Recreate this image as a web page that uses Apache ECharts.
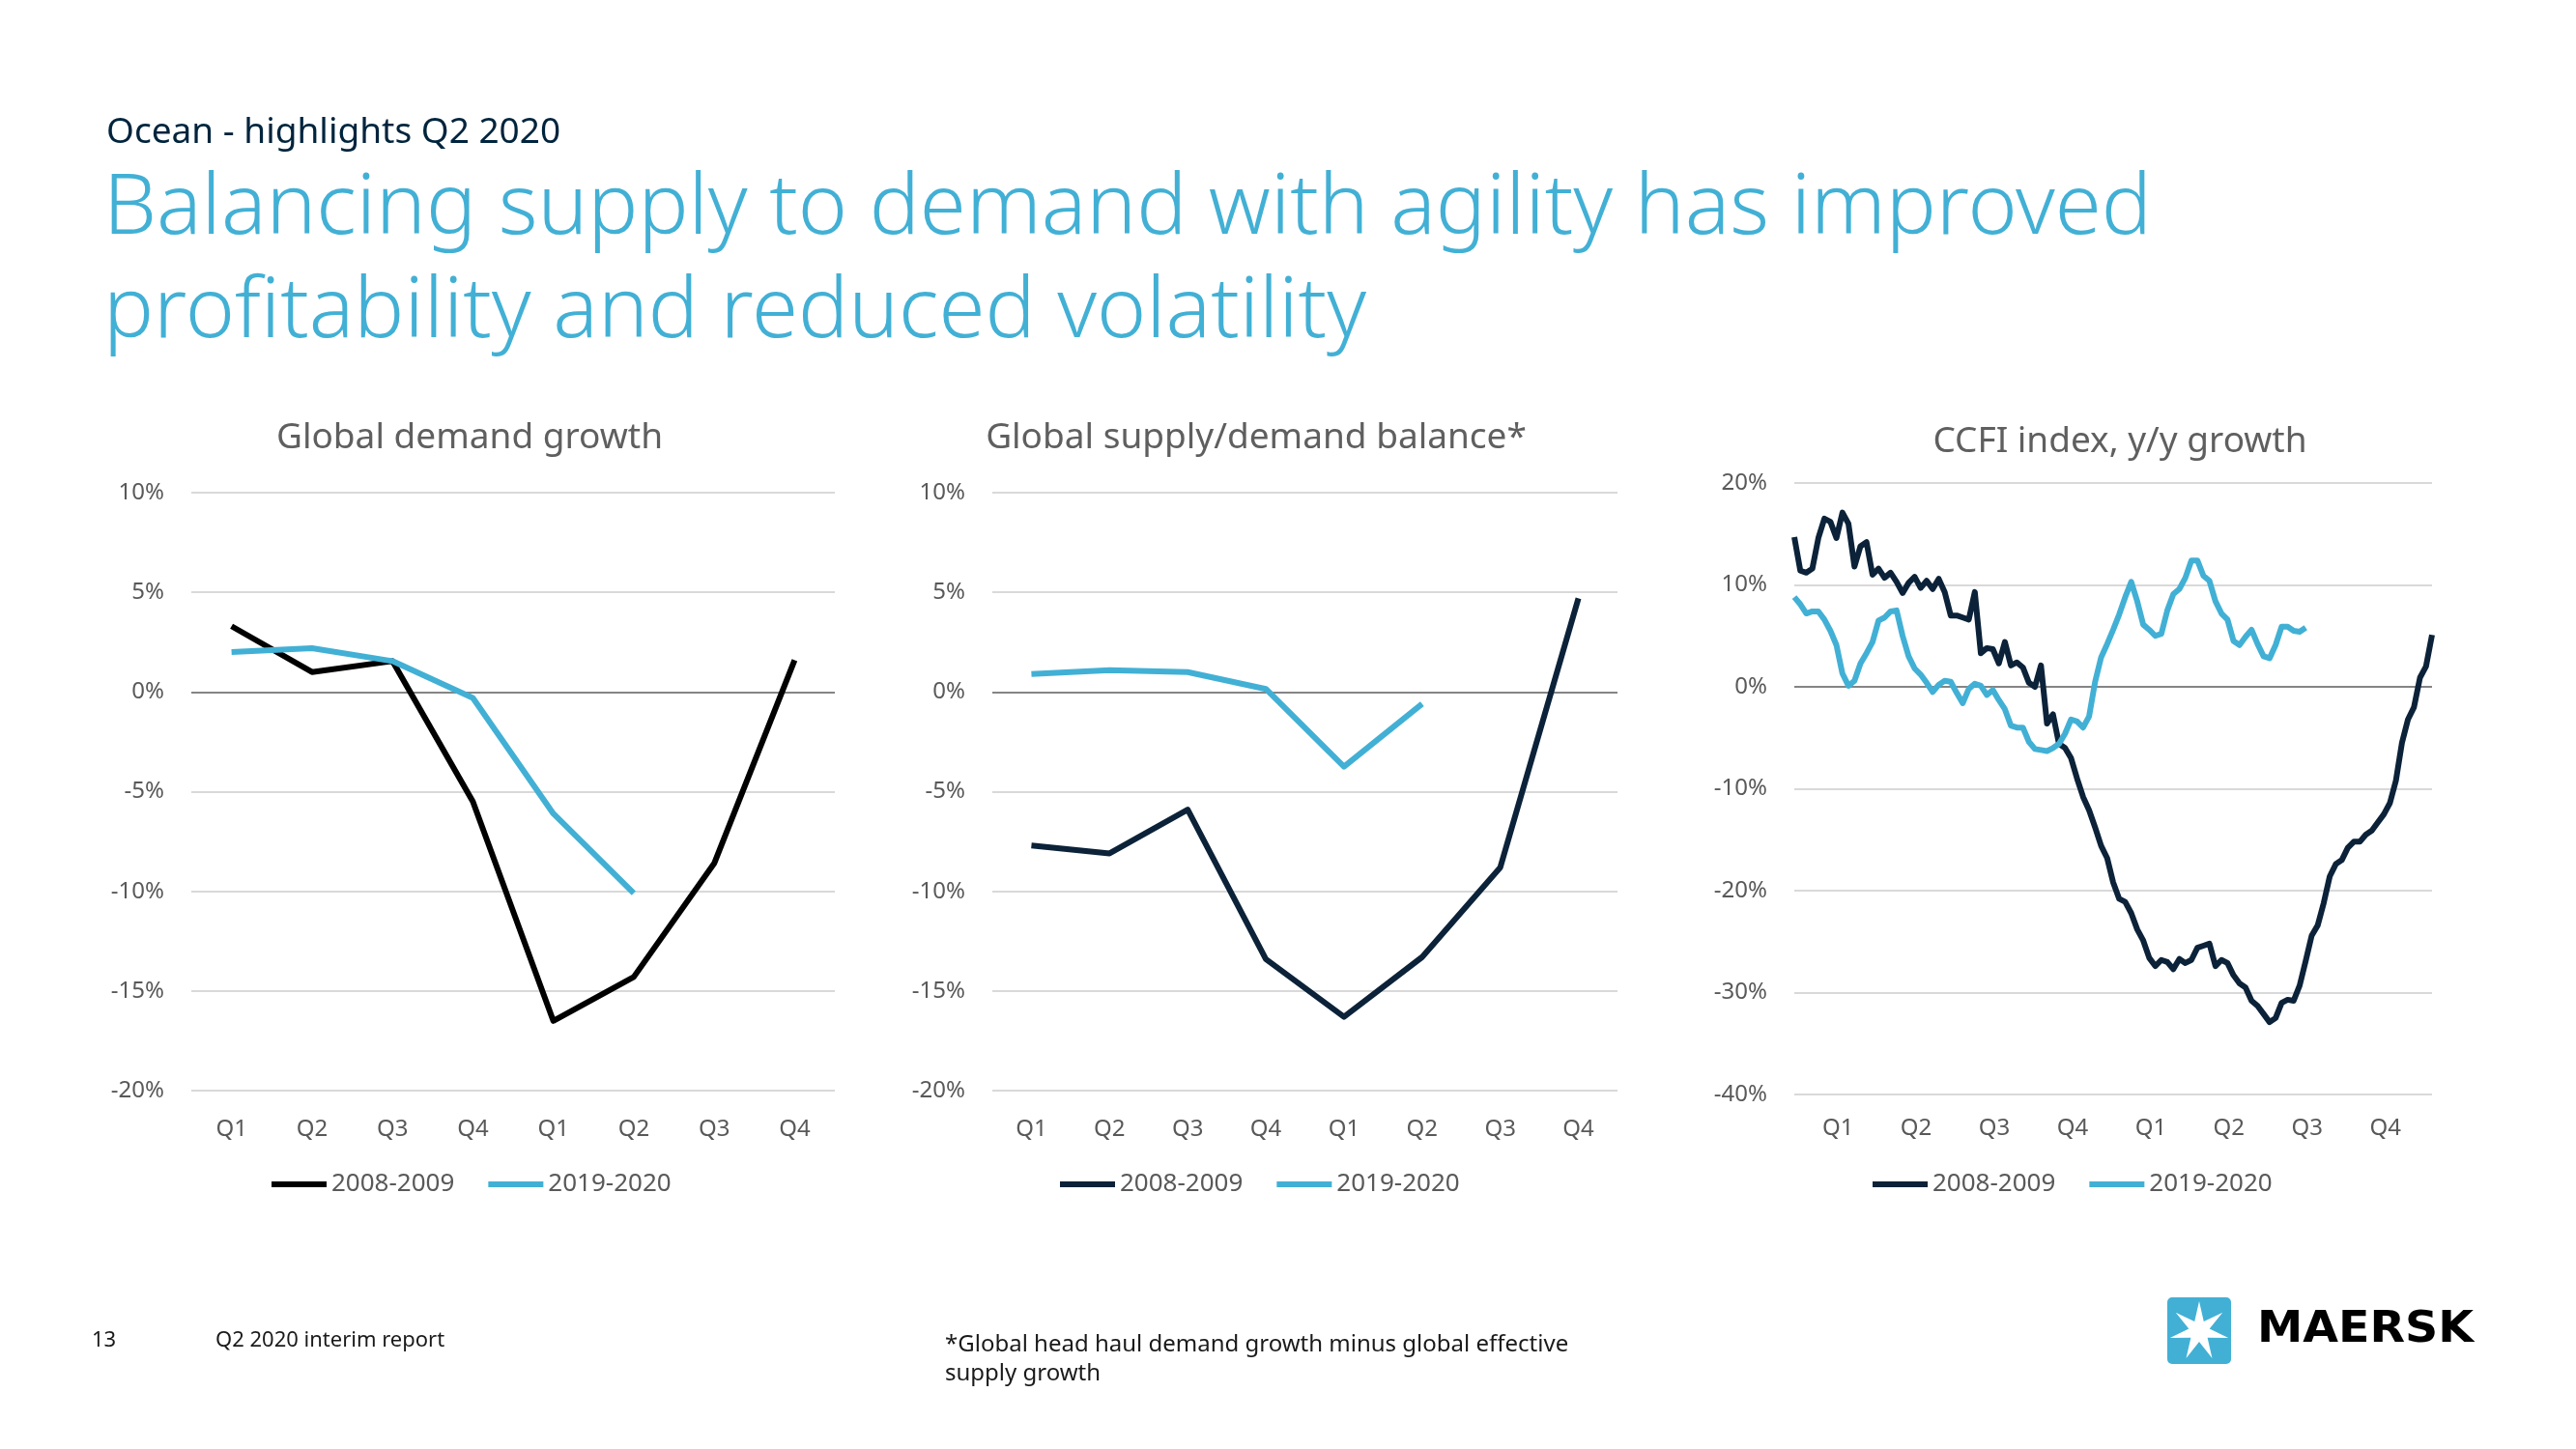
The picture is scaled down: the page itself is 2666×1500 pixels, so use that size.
<!DOCTYPE html>
<html><head><meta charset="utf-8">
<script src="https://cdn.jsdelivr.net/npm/echarts@6/dist/echarts.min.js"></script>
<style>html,body{margin:0;padding:0;background:#fff}#main{width:2666px;height:1500px}</style>
</head><body><div id="main"></div>
<script>
// ---------------- data ----------------
const quarters = ['Q1', 'Q2', 'Q3', 'Q4', 'Q1', 'Q2', 'Q3', 'Q4'];
const seriesNames = ['2008-2009', '2019-2020'];

// Global demand growth (%)
const demand2008 = [3.3, 1.0, 1.55, -5.5, -16.5, -14.3, -8.6, 1.6];
const demand2019 = [2.0, 2.2, 1.55, -0.3, -6.1, -10.1];

// Global supply/demand balance (%)
const balance2008 = [-7.7, -8.1, -5.9, -13.4, -16.3, -13.3, -8.8, 4.7];
const balance2019 = [0.9, 1.1, 1.0, 0.15, -3.75, -0.6];

// CCFI index y/y growth (%), weekly
const ccfi2008 = [
  14.7, 11.4, 11.2, 11.6, 14.6, 16.5, 16.2, 14.6, 17.1, 16.0,
  11.8, 13.8, 14.2, 11.0, 11.6, 10.7, 11.2, 10.3, 9.2, 10.2,
  10.8, 9.7, 10.4, 9.6, 10.6, 9.3, 7.0, 7.0, 6.8, 6.6,
  9.3, 3.3, 3.8, 3.7, 2.3, 4.4, 2.1, 2.4, 1.9, 0.4,
  0.0, 2.1, -3.6, -2.7, -5.6, -6.0, -7.0, -9.0, -10.8, -12.1,
  -13.8, -15.6, -16.8, -19.2, -20.8, -21.1, -22.2, -23.8, -24.9, -26.6,
  -27.4, -26.8, -27.0, -27.7, -26.7, -27.1, -26.8, -25.6, -25.4, -25.2,
  -27.4, -26.8, -27.1, -28.3, -29.1, -29.5, -30.8, -31.3, -32.1, -32.9,
  -32.5, -31.0, -30.7, -30.8, -29.3, -26.9, -24.4, -23.4, -21.2, -18.6,
  -17.4, -17.0, -15.8, -15.2, -15.2, -14.5, -14.1, -13.3, -12.5, -11.4,
  -9.2, -5.5, -3.2, -2.0, 0.9, 2.0, 5.1
];
const ccfi2019 = [
  8.8, 8.1, 7.2, 7.4, 7.4, 6.6, 5.5, 4.1, 1.3, 0.1,
  0.6, 2.3, 3.3, 4.4, 6.5, 6.8, 7.4, 7.5, 5.0, 3.0,
  1.8, 1.2, 0.4, -0.5, 0.2, 0.6, 0.5, -0.6, -1.6, -0.2,
  0.3, 0.1, -0.8, -0.3, -1.3, -2.2, -3.8, -4.0, -4.0, -5.4,
  -6.1, -6.2, -6.3, -6.0, -5.6, -4.6, -3.2, -3.4, -4.0, -2.9,
  0.5, 2.9, 4.2, 5.6, 7.1, 8.8, 10.3, 8.4, 6.1, 5.6,
  5.0, 5.2, 7.5, 9.1, 9.6, 10.7, 12.4, 12.4, 10.9, 10.4,
  8.4, 7.2, 6.6, 4.5, 4.1, 4.9, 5.6, 4.2, 3.0, 2.8,
  4.1, 5.9, 5.9, 5.5, 5.4, 5.8
];
// week positions of the quarter tick labels on the CCFI axis
const ccfiQuarterWeeks = [7.25, 20.25, 33.25, 46.25, 59.25, 72.25, 85.25, 98.25];

// ---------------- styling ----------------
const FONT = "'Noto Sans', 'Open Sans', sans-serif";
const BLUE = '#42B0D5';
const NAVY = '#0B2239';
const BLACK = '#000000';
const LABEL = '#595959';
const GRIDC = '#D9D9D9';

const chart = echarts.init(document.getElementById('main'), null, { renderer: 'canvas' });

function yAxis(gridIndex, min, max, interval) {
  return {
    type: 'value', gridIndex, min, max, interval,
    axisLine: { show: false }, axisTick: { show: false },
    axisLabel: { formatter: '{value}%', color: LABEL, fontSize: 24, fontFamily: FONT, margin: 28 },
    splitLine: { lineStyle: { color: GRIDC, width: 2 } }
  };
}
function catAxis(gridIndex) {
  return {
    type: 'category', gridIndex, data: quarters, boundaryGap: true,
    axisLine: { show: false }, axisTick: { show: false },
    axisLabel: { color: LABEL, fontSize: 24, fontFamily: FONT, margin: 28, interval: 0 },
    splitLine: { show: false }
  };
}
const zeroLine = {
  silent: true, symbol: 'none', label: { show: false },
  lineStyle: { color: '#858585', width: 2, type: 'solid' },
  data: [{ yAxis: 0 }]
};
function lineSeries(name, idx, data, color, withZero) {
  const s = {
    name, type: 'line', xAxisIndex: idx, yAxisIndex: idx, data,
    symbol: 'none', smooth: false, z: 10,
    lineStyle: { color, width: 6, join: 'round' },
    itemStyle: { color }
  };
  if (withZero) s.markLine = zeroLine;
  return s;
}
function legend(left, color2008) {
  return {
    left, top: 1213, padding: 0, icon: 'rect', itemWidth: 57, itemHeight: 6, itemGap: 35,
    selectedMode: false,
    textStyle: { color: LABEL, fontSize: 26, fontFamily: FONT },
    data: [
      { name: seriesNames[0], itemStyle: { color: color2008 } },
      { name: seriesNames[1], itemStyle: { color: BLUE } }
    ]
  };
}
function txt(x, y, text, size, color, align, weight) {
  return {
    type: 'text', x, y, silent: true,
    style: { text, fontSize: size, fontFamily: FONT, fontWeight: weight || 'normal',
             fill: color, align: align || 'left', verticalAlign: 'middle' }
  };
}

// Maersk star
const starPts = [];
for (let i = 0; i < 14; i++) {
  const a = -Math.PI / 2 + i * Math.PI / 7;
  const r = i % 2 === 0 ? 31 : 11;
  starPts.push([2276 + r * Math.cos(a), 1378 + r * Math.sin(a)]);
}

const option = {
  animation: false,
  backgroundColor: '#ffffff',
  grid: [
    { left: 198, top: 510, width: 666, height: 619 },
    { left: 1027, top: 510, width: 647, height: 619 },
    { left: 1857, top: 500, width: 660, height: 633 }
  ],
  xAxis: [
    catAxis(0),
    catAxis(1),
    {
      type: 'value', gridIndex: 2, min: 0, max: ccfi2008.length - 1,
      axisLine: { show: false }, axisTick: { show: false }, splitLine: { show: false },
      axisLabel: {
        customValues: ccfiQuarterWeeks, color: LABEL, fontSize: 24, fontFamily: FONT, margin: 23,
        formatter: (v) => {
          const k = ccfiQuarterWeeks.findIndex(w => Math.abs(w - v) < 0.01);
          return k >= 0 ? quarters[k] : '';
        }
      }
    }
  ],
  yAxis: [yAxis(0, -20, 10, 5), yAxis(1, -20, 10, 5), yAxis(2, -40, 20, 10)],
  legend: [legend(281, BLACK), legend(1097, NAVY), legend(1938, NAVY)],
  series: [
    lineSeries(seriesNames[0], 0, demand2008, BLACK, true),
    lineSeries(seriesNames[1], 0, demand2019, BLUE, false),
    lineSeries(seriesNames[0], 1, balance2008, NAVY, true),
    lineSeries(seriesNames[1], 1, balance2019, BLUE, false),
    lineSeries(seriesNames[0], 2, ccfi2008.map((v, i) => [i, v]), NAVY, true),
    lineSeries(seriesNames[1], 2, ccfi2019.map((v, i) => [i, v]), BLUE, false)
  ],
  graphic: [
    txt(110, 137, 'Ocean - highlights Q2 2020', 37, '#00243D'),
    txt(107, 217, 'Balancing supply to demand with agility has improved', 87, BLUE, 'left', 300),
    txt(107, 324, 'profitability and reduced volatility', 87, BLUE, 'left', 300),
    txt(486, 453, 'Global demand growth', 37, '#5F5F5F', 'center'),
    txt(1300, 453, 'Global supply/demand balance*', 37, '#5F5F5F', 'center'),
    txt(2194, 457, 'CCFI index, y/y growth', 37, '#5F5F5F', 'center'),
    txt(95, 1388, '13', 22, '#1A1A1A'),
    txt(223, 1388, 'Q2 2020 interim report', 22, '#1A1A1A'),
    txt(978, 1392, '*Global head haul demand growth minus global effective', 24, '#1A1A1A'),
    txt(978, 1422, 'supply growth', 24, '#1A1A1A'),
    { type: 'rect', silent: true, shape: { x: 2243, y: 1343, width: 66, height: 69, r: 5 }, style: { fill: BLUE } },
    { type: 'polygon', silent: true, shape: { points: starPts }, style: { fill: '#ffffff' } },
    {
      type: 'text', x: 2336, y: 1378, scaleX: 1.08, silent: true,
      style: { text: 'MAERSK', fontSize: 44, fontFamily: "'DejaVu Sans', sans-serif", fontWeight: 'bold',
               fill: '#000000', align: 'left', verticalAlign: 'middle' }
    }
  ]
};
chart.setOption(option);
</script>
</body></html>
